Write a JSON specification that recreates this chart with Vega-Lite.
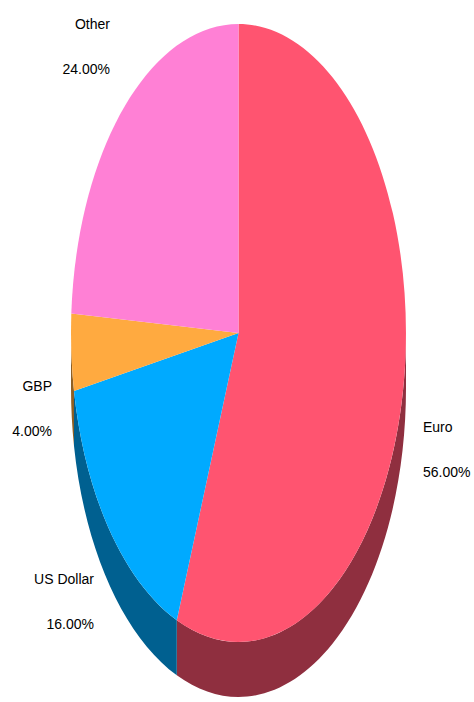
{
  "$schema": "https://vega.github.io/schema/vega-lite/v6.json",
  "width": 471,
  "height": 666,
  "padding": {"left": 3, "right": 0, "top": 0, "bottom": 36},
  "autosize": "none",
  "background": "#ffffff",
  "view": {"stroke": null},
  "data": {"values": [
    {"currency": "Euro", "share": 56, "label": "Euro\n56.00%"},
    {"currency": "US Dollar", "share": 16, "label": "US Dollar\n16.00%"},
    {"currency": "GBP", "share": 4, "label": "GBP\n4.00%"},
    {"currency": "Other", "share": 24, "label": "Other\n24.00%"}
  ]},
  "layer": [
    {
      "transform": [{"filter": "datum.currency !== 'Other'"}],
      "mark": {"type": "point", "filled": true, "size": 4, "opacity": 1, "strokeWidth": 0},
      "encoding": {
        "shape": {"field": "currency", "type": "nominal", "legend": null, "scale": {
          "domain": ["Euro", "US Dollar", "GBP"],
          "range": [
            "M167.5,0 A167.5,309 0 0 1 -61.7,287.3 L-61.7,342.3 A167.5,309 0 0 0 167.5,55 Z",
            "M-61.7,287.3 A167.5,309 0 0 1 -164.5,57.9 L-164.5,112.9 A167.5,309 0 0 0 -61.7,342.3 Z",
            "M-164.5,57.9 A167.5,309 0 0 1 -167.5,0 L-167.5,55 A167.5,309 0 0 0 -164.5,112.9 Z"
          ]
        }},
        "color": {"field": "currency", "type": "nominal", "legend": null, "scale": {
          "domain": ["Euro", "US Dollar", "GBP"],
          "range": ["#8f2f3f", "#006090", "#8f5f23"]
        }}
      }
    },
    {
      "mark": {"type": "point", "filled": true, "size": 4, "opacity": 1, "strokeWidth": 0},
      "encoding": {
        "shape": {"field": "currency", "type": "nominal", "legend": null, "scale": {
          "domain": ["Euro", "US Dollar", "GBP", "Other"],
          "range": [
            "M0,0 L0,-309 A167.5,309 0 1 1 -61.7,287.3 Z",
            "M0,0 L-61.7,287.3 A167.5,309 0 0 1 -164.5,57.9 Z",
            "M0,0 L-164.5,57.9 A167.5,309 0 0 1 -167.2,-19.4 Z",
            "M0,0 L-167.2,-19.4 A167.5,309 0 0 1 0,-309 Z"
          ]
        }},
        "color": {"field": "currency", "type": "nominal", "legend": null, "scale": {
          "domain": ["Euro", "US Dollar", "GBP", "Other"],
          "range": ["#ff5470", "#00aaff", "#ffaa40", "#ff80d5"]
        }}
      }
    },
    {
      "transform": [{"filter": "datum.currency !== 'Euro'"}],
      "mark": {"type": "text", "align": "right", "baseline": "middle", "lineBreak": "\n", "lineHeight": 45, "font": "Liberation Sans", "fontSize": 14, "color": "#000000"},
      "encoding": {
        "x": {"field": "share", "type": "quantitative", "axis": null, "scale": {"domain": [4, 16, 24, 56], "range": [49, 91, 107, 420]}},
        "y": {"field": "share", "type": "quantitative", "axis": null, "scale": {"domain": [4, 16, 24, 56], "range": [387, 580, 25, 428]}},
        "text": {"field": "label"}
      }
    },
    {
      "transform": [{"filter": "datum.currency === 'Euro'"}],
      "mark": {"type": "text", "align": "left", "baseline": "middle", "lineBreak": "\n", "lineHeight": 45, "font": "Liberation Sans", "fontSize": 14, "color": "#000000"},
      "encoding": {
        "x": {"field": "share", "type": "quantitative", "axis": null, "scale": {"domain": [4, 16, 24, 56], "range": [49, 91, 107, 420]}},
        "y": {"field": "share", "type": "quantitative", "axis": null, "scale": {"domain": [4, 16, 24, 56], "range": [387, 580, 25, 428]}},
        "text": {"field": "label"}
      }
    }
  ],
  "resolve": {"scale": {"shape": "independent", "color": "independent"}}
}
